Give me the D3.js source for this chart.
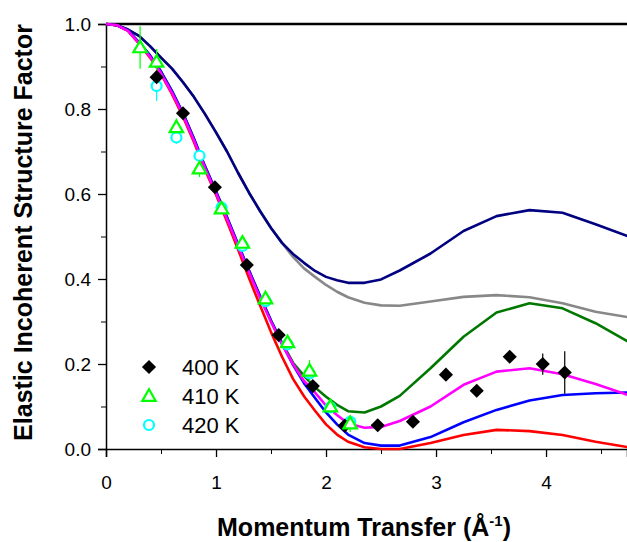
<!DOCTYPE html>
<html>
<head>
<meta charset="utf-8">
<script src="https://cdn.jsdelivr.net/npm/d3@7"></script>
<style>
  html, body { margin: 0; padding: 0; background: #fff; }
  svg { display: block; font-family: "Liberation Sans", Arial, sans-serif; }
</style>
</head>
<body>
<svg id="chart" width="627" height="542"></svg>
<script>
// momentum transfer grid for the model curves
const q = [0, 0.1, 0.2, 0.3, 0.4, 0.5, 0.6, 0.7, 0.8, 0.9, 1.0, 1.1, 1.2, 1.3, 1.4, 1.5, 1.6,
           1.7, 1.8, 1.9, 2.0, 2.1, 2.2, 2.35, 2.5, 2.67, 2.95, 3.25, 3.55, 3.85, 4.15, 4.45, 4.75];

const navyCurve = [1.0, 0.997, 0.987, 0.972, 0.948, 0.921, 0.895, 0.863, 0.828, 0.788, 0.745, 0.700, 0.650,
                   0.603, 0.560, 0.520, 0.485, 0.459, 0.438, 0.419, 0.405, 0.397, 0.391, 0.391, 0.399,
                   0.420, 0.460, 0.513, 0.548, 0.562, 0.556, 0.529, 0.500];
const grayCurve = [1.0, 0.997, 0.987, 0.972, 0.948, 0.921, 0.895, 0.863, 0.828, 0.788, 0.745, 0.700, 0.650,
                   0.603, 0.560, 0.520, 0.485, 0.452, 0.425, 0.405, 0.386, 0.370, 0.357, 0.344, 0.338,
                   0.337, 0.347, 0.358, 0.362, 0.357, 0.343, 0.323, 0.310];
const greenCurve = [1.0, 0.997, 0.985, 0.957, 0.926, 0.888, 0.842, 0.790, 0.730, 0.665, 0.606, 0.545, 0.482,
                    0.420, 0.360, 0.302, 0.250, 0.203, 0.172, 0.145, 0.123, 0.104, 0.089, 0.086, 0.100,
                    0.125, 0.190, 0.264, 0.321, 0.343, 0.331, 0.296, 0.252];
const redCurve = [1.0, 0.997, 0.984, 0.954, 0.921, 0.882, 0.835, 0.782, 0.722, 0.657, 0.598, 0.535, 0.470,
                  0.402, 0.338, 0.275, 0.217, 0.165, 0.124, 0.090, 0.058, 0.034, 0.017, 0.004, 0.000,
                  0.000, 0.014, 0.033, 0.045, 0.042, 0.033, 0.017, 0.004];
const blueCurve = [1.0, 0.997, 0.985, 0.957, 0.926, 0.888, 0.842, 0.790, 0.730, 0.665, 0.606, 0.545, 0.482,
                   0.420, 0.360, 0.302, 0.248, 0.198, 0.155, 0.120, 0.086, 0.058, 0.034, 0.014, 0.008,
                   0.008, 0.028, 0.063, 0.092, 0.114, 0.127, 0.131, 0.133];
const magentaCurve = [1.0, 0.997, 0.984, 0.955, 0.923, 0.884, 0.838, 0.786, 0.726, 0.661, 0.602, 0.541, 0.478,
                      0.416, 0.356, 0.299, 0.246, 0.200, 0.160, 0.133, 0.102, 0.080, 0.060, 0.050, 0.052,
                      0.066, 0.100, 0.151, 0.182, 0.190, 0.176, 0.153, 0.127];

// measured points
const q400 = [0.46, 0.70, 0.99, 1.28, 1.57, 1.88, 2.17, 2.47, 2.79, 3.09, 3.37, 3.67, 3.97, 4.17];
const s400 = [0.875, 0.790, 0.616, 0.433, 0.268, 0.148, 0.055, 0.056, 0.064, 0.175, 0.137, 0.217, 0.200, 0.180];
const e400 = [0.015, 0, 0, 0, 0, 0, 0, 0, 0, 0, 0, 0, 0.025, 0.05];

const q410 = [0.31, 0.46, 0.64, 0.85, 1.05, 1.24, 1.45, 1.65, 1.85, 2.04, 2.22];
const s410 = [0.945, 0.911, 0.757, 0.660, 0.566, 0.485, 0.354, 0.251, 0.184, 0.100, 0.060];
const e410 = [0.05, 0.03, 0.02, 0.02, 0.012, 0.008, 0.008, 0.008, 0.025, 0.01, 0.02];

const q420 = [0.46, 0.64, 0.85, 1.05, 1.24, 1.45, 1.65, 1.85, 2.04, 2.22];
const s420 = [0.854, 0.733, 0.690, 0.568, 0.478, 0.348, 0.246, 0.178, 0.098, 0.064];
const e420 = [0.035, 0.015, 0.015, 0, 0, 0, 0, 0, 0, 0.015];

const xTicks = [0, 1, 2, 3, 4];
const yTicks = [0, 0.2, 0.4, 0.6, 0.8, 1.0];
const legendLabels = ["400 K", "410 K", "420 K"];

const svg = d3.select("#chart");
const x = d3.scaleLinear().domain([0, 4.736]).range([106, 627]);
const y = d3.scaleLinear().domain([0, 1]).range([449, 24]);

// minor ticks
svg.append("g")
    .attr("transform", "translate(0,449)")
    .call(d3.axisBottom(x).tickValues([0.5, 1.5, 2.5, 3.5, 4.5]).tickSize(5).tickFormat(""))
    .call(g => g.select(".domain").remove());
svg.append("g")
    .attr("transform", "translate(106,0)")
    .call(d3.axisLeft(y).tickValues([0.1, 0.3, 0.5, 0.7, 0.9]).tickSize(5).tickFormat(""))
    .call(g => g.select(".domain").remove());

// major axes
const xAxis = svg.append("g")
    .attr("transform", "translate(0,449)")
    .call(d3.axisBottom(x).tickValues(xTicks).tickSize(8).tickPadding(19).tickFormat(d3.format("d")));
const yAxis = svg.append("g")
    .attr("transform", "translate(106,0)")
    .call(d3.axisLeft(y).tickValues(yTicks).tickSize(8).tickPadding(7).tickFormat(d3.format(".1f")));
[xAxis, yAxis].forEach(a => {
    a.selectAll("text").attr("font-size", 19).attr("fill", "#000").attr("font-family", "Liberation Sans, Arial, sans-serif");
    a.selectAll("line,path").attr("stroke", "#000").attr("stroke-width", 1.3);
    a.select(".domain").attr("stroke-width", 1.5);
});

// top frame line
svg.append("line")
    .attr("x1", x(0)).attr("x2", 627)
    .attr("y1", y(1)).attr("y2", y(1))
    .attr("stroke", "#000").attr("stroke-width", 2.5);

// model curves
const line = d3.line().x((d, i) => x(q[i])).y(d => y(d));
const curves = [
    [grayCurve, "#888888"],
    [navyCurve, "#000080"],
    [greenCurve, "#007800"],
    [redCurve, "#ff0000"],
    [blueCurve, "#0000ff"],
    [magentaCurve, "#ff00ff"]
];
curves.forEach(([vals, col]) => {
    svg.append("path")
        .datum(vals)
        .attr("d", line)
        .attr("fill", "none")
        .attr("stroke", col)
        .attr("stroke-width", 2.6)
        .attr("stroke-linejoin", "round");
});

// error bars
function errorBars(qs, ss, es, col) {
    svg.append("g").selectAll("line")
        .data(qs.map((d, i) => [d, ss[i], es[i]]).filter(d => d[2] > 0))
        .join("line")
        .attr("x1", d => x(d[0])).attr("x2", d => x(d[0]))
        .attr("y1", d => y(d[1] + d[2])).attr("y2", d => y(d[1] - d[2]))
        .attr("stroke", col).attr("stroke-width", 1.2);
}
errorBars(q420, s420, e420, "#00ffff");
errorBars(q400, s400, e400, "#000");
errorBars(q410, s410, e410, "#00ff00");

const diamond = d3.symbol(d3.symbolSquare, 100);
const triangle = d3.symbol(d3.symbolTriangle, 78);

function circles(g, pts) {
    g.selectAll("circle").data(pts).join("circle")
        .attr("cx", d => d[0]).attr("cy", d => d[1]).attr("r", 5)
        .attr("fill", "#fff").attr("stroke", "#00ffff").attr("stroke-width", 2.2);
}
function diamonds(g, pts) {
    g.selectAll("path").data(pts).join("path")
        .attr("d", diamond)
        .attr("transform", d => `translate(${d[0]},${d[1]}) rotate(45)`)
        .attr("fill", "#000");
}
function triangles(g, pts) {
    g.selectAll("path").data(pts).join("path")
        .attr("d", triangle)
        .attr("transform", d => `translate(${d[0]},${d[1] + 1})`)
        .attr("fill", "#fff").attr("stroke", "#00ff00").attr("stroke-width", 2.2);
}

circles(svg.append("g"), q420.map((d, i) => [x(d), y(s420[i])]));
diamonds(svg.append("g"), q400.map((d, i) => [x(d), y(s400[i])]));
triangles(svg.append("g"), q410.map((d, i) => [x(d), y(s410[i])]));

// legend
const legend = svg.append("g");
const legendY = [367, 396, 425];
diamonds(legend.append("g"), [[149, legendY[0]]]);
triangles(legend.append("g"), [[149, legendY[1]]]);
circles(legend.append("g"), [[149, legendY[2]]]);
legend.selectAll("text").data(legendLabels).join("text")
    .attr("x", 182)
    .attr("y", (d, i) => legendY[i] + 8)
    .attr("font-size", 22)
    .text(d => d);

// axis titles
svg.append("text")
    .attr("transform", `translate(32,${(y(0) + y(1)) / 2 - 4}) rotate(-90)`)
    .attr("text-anchor", "middle")
    .attr("font-size", 25)
    .attr("font-weight", "bold")
    .text("Elastic Incoherent Structure Factor");

const xt = svg.append("text")
    .attr("x", 364)
    .attr("y", 536)
    .attr("text-anchor", "middle")
    .attr("font-size", 25)
    .attr("font-weight", "bold");
xt.append("tspan").text("Momentum Transfer (Å");
xt.append("tspan").attr("font-size", 15).attr("dy", -10).text("-1");
xt.append("tspan").attr("dy", 10).text(")");
</script>
</body>
</html>
